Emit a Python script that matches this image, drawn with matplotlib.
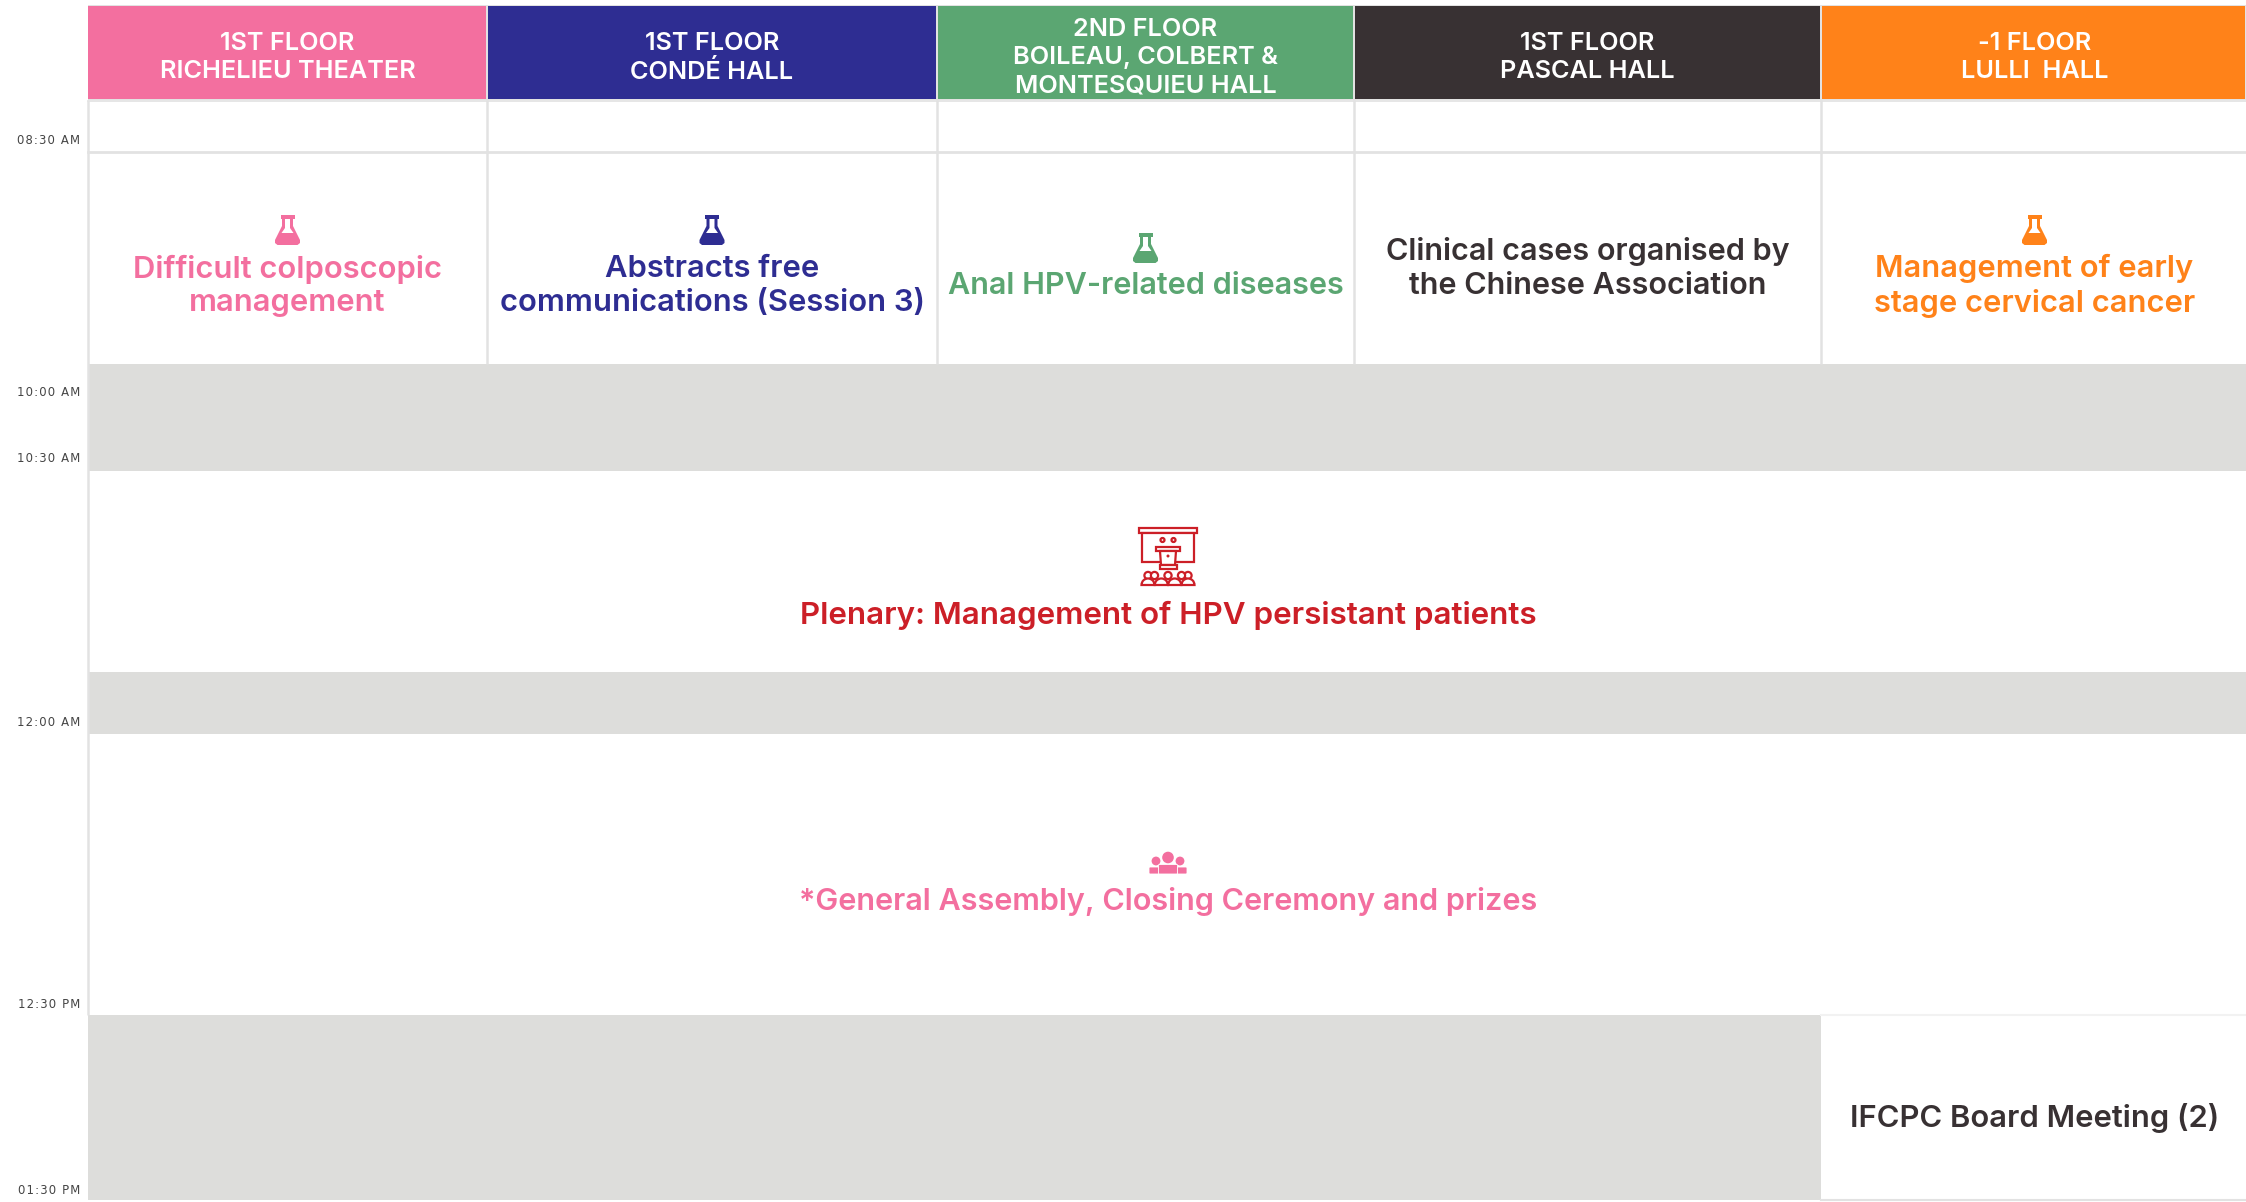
import matplotlib
matplotlib.use('Agg')
import matplotlib.pyplot as plt
from matplotlib.patches import Rectangle, Circle, Polygon, FancyBboxPatch, Wedge

plt.rcParams['font.family'] = ['Inter', 'DejaVu Sans']

# --- schedule layout (pixels of the 2246x1202 image) ---
col_edges = [88, 487, 937, 1354, 1821, 2246]
row_edges = [100, 152, 364, 471, 672, 734, 1015, 1200]

PINK = '#f36f9f'
NAVY = '#2e2d92'
GREEN = '#5ba672'
DARK = '#383133'
ORANGE = '#ff8219'
RED = '#cc1f27'
GRAY = '#dddddb'
LINE = '#e2e2e2'

headers = [['1ST FLOOR', 'RICHELIEU THEATER'],
           ['1ST FLOOR', 'CONDÉ HALL'],
           ['2ND FLOOR', 'BOILEAU, COLBERT &', 'MONTESQUIEU HALL'],
           ['1ST FLOOR', 'PASCAL HALL'],
           ['-1 FLOOR', 'LULLI  HALL']]
header_colors = [PINK, NAVY, GREEN, DARK, ORANGE]

sessions = ['Difficult colposcopic\nmanagement',
            'Abstracts free\ncommunications (Session 3)',
            'Anal HPV-related diseases',
            'Clinical cases organised by\nthe Chinese Association',
            'Management of early\nstage cervical cancer']
session_colors = [PINK, NAVY, GREEN, DARK, ORANGE]
session_flask = [True, True, True, False, True]
session_sizes = [22.3, 22.3, 22.0, 22.0, 22.3]

time_labels = ['08:30 AM', '10:00 AM', '10:30 AM', '12:00 AM', '12:30 PM', '01:30 PM']
time_y = [140, 392, 458, 722, 1004, 1190]

plenary = 'Plenary: Management of HPV persistant patients'
closing = '*General Assembly, Closing Ceremony and prizes'
board = 'IFCPC Board Meeting (2)'

fig = plt.figure(figsize=(22.46, 12.02), dpi=100)
ax = fig.add_axes([0, 0, 1, 1])
ax.set_xlim(0, 2246)
ax.set_ylim(1202, 0)
ax.axis('off')


def box(x0, y0, x1, y1, color, z=1):
    ax.add_patch(Rectangle((x0, y0), x1 - x0, y1 - y0, fc=color, ec='none', zorder=z))


def flask(cx, top, color):
    # small lab flask, 25 px wide and 30 px high
    ax.add_patch(Rectangle((cx - 7, top), 14, 3.5, fc=color, ec='none', zorder=3))
    ax.add_patch(Polygon([(cx - 5.5, top + 3), (cx - 2.5, top + 3), (cx - 2.5, top + 13), (cx - 6, top + 18),
                          (cx + 6, top + 18), (cx + 2.5, top + 13), (cx + 2.5, top + 3), (cx + 5.5, top + 3),
                          (cx + 5.5, top + 11), (cx + 12.5, top + 25), (cx + 12.5, top + 28), (cx + 10, top + 30),
                          (cx - 10, top + 30), (cx - 12.5, top + 28), (cx - 12.5, top + 25), (cx - 5.5, top + 11)],
                         fc=color, ec='none', zorder=3))


def people(cx, top, color):
    # three people group icon
    for dx, dy, r in [(-12, 9, 4.4), (12, 9, 4.4), (0, 5.5, 5.8)]:
        ax.add_patch(Circle((cx + dx, top + dy), r, fc=color, ec='none', zorder=3))
    for x0, x1, y0 in [(-19, -9, 15), (9, 19, 15), (-9.5, 9.5, 12.5)]:
        ax.add_patch(FancyBboxPatch((cx + x0 + 1, top + y0 + 1), x1 - x0 - 2, 22 - y0 - 2,
                                    boxstyle='round,pad=1', fc=color, ec='white', lw=0.6, zorder=4))


def podium(cx, top, color):
    # screen, lectern and audience
    lw = 1.6
    ax.add_patch(Rectangle((cx - 29, top + 1), 58, 4.5, fc='none', ec=color, lw=lw, zorder=3))
    ax.add_patch(Rectangle((cx - 26, top + 5.5), 52, 29, fc='white', ec=color, lw=lw, zorder=3))
    ax.add_patch(Rectangle((cx - 12, top + 20), 24, 4, fc='white', ec=color, lw=lw, zorder=4))
    ax.add_patch(Polygon([(cx - 8, top + 24), (cx + 8, top + 24), (cx + 7, top + 38), (cx - 7, top + 38)],
                         fc='white', ec=color, lw=lw, zorder=4))
    ax.add_patch(Rectangle((cx - 8.5, top + 38), 17, 4, fc='white', ec=color, lw=lw, zorder=4))
    ax.add_patch(Circle((cx - 5.5, top + 13), 2, fc='white', ec=color, lw=lw, zorder=4))
    ax.add_patch(Circle((cx + 5.5, top + 13), 2, fc='white', ec=color, lw=lw, zorder=4))
    ax.add_patch(Circle((cx, top + 29), 1.5, fc=color, ec='none', zorder=5))
    for dx in (-20, 0, 20):
        ax.add_patch(Circle((cx + dx, top + 48.5), 3.6, fc='white', ec=color, lw=lw, zorder=4))
    for dx in (-13.5, 13.5):
        ax.add_patch(Circle((cx + dx, top + 48.5), 3.6, fc='white', ec=color, lw=lw, zorder=4))
    for dx in (-20, -6.7, 6.7, 20):
        ax.add_patch(Wedge((cx + dx, top + 58), 6.5, 180, 360, fc='white', ec=color, lw=lw, zorder=5))


# header cells
for i in range(5):
    box(col_edges[i], 5, col_edges[i + 1], row_edges[0], LINE, 1)
    box(col_edges[i] + (1 if i else 0), 6, col_edges[i + 1] - 1, row_edges[0] - 1, header_colors[i], 2)
    n = len(headers[i])
    for j, line in enumerate(headers[i]):
        yy = 29 + 28.5 * j if n == 3 else 43.5 + 28.5 * j
        ax.text((col_edges[i] + col_edges[i + 1]) / 2 + (1.5 if i == 4 else 0), yy, line, color='white',
                fontsize=18.2, fontweight=600, ha='center', va='center', zorder=3)

# gray breaks
box(col_edges[0], row_edges[2], 2246, row_edges[3], GRAY)
box(col_edges[0], row_edges[4], 2246, row_edges[5], GRAY)
box(col_edges[0], row_edges[6], col_edges[4], row_edges[7], GRAY)

# grid lines
ax.plot([88, 88], [row_edges[0], row_edges[6]], color=LINE, lw=1.8, zorder=2, solid_capstyle='butt')
ax.plot([88, 2246], [row_edges[1], row_edges[1]], color=LINE, lw=2, zorder=2)
ax.plot([88, 2246], [row_edges[0] + 0.5, row_edges[0] + 0.5], color=LINE, lw=1.2, zorder=2)
for x in col_edges[1:5]:
    ax.plot([x, x], [row_edges[0], row_edges[2]], color=LINE, lw=1.8, zorder=2, solid_capstyle='butt')
ax.plot([col_edges[4], 2246], [row_edges[6], row_edges[6]], color='#f2f2f2', lw=1.5, zorder=2)
ax.plot([col_edges[4], 2246], [1200, 1200], color=LINE, lw=1.5, zorder=2)

# sessions
for i in range(5):
    cx = (col_edges[i] + col_edges[i + 1]) / 2 + (1 if i == 4 else 0)
    two = '\n' in sessions[i]
    yy = 286 if two else 286
    if i == 3:
        yy = 268.5
    ax.text(cx, yy, sessions[i], color=session_colors[i], fontsize=session_sizes[i], fontweight=600,
            ha='center', va='center', linespacing=1.26, zorder=3)
    if session_flask[i]:
        flask(cx, 215 if two else 233, session_colors[i])

cx_all = (col_edges[0] + 2246) / 2
podium(cx_all + 1, 527, RED)
ax.text(cx_all + 1, 615, plenary, color=RED, fontsize=22.6, fontweight=600, ha='center', va='center', zorder=3)
people(cx_all + 1, 852, PINK)
ax.text(cx_all + 1, 901, closing, color=PINK, fontsize=22.0, fontweight=600, ha='center', va='center', zorder=3)
ax.text((col_edges[4] + 2246) / 2 + 1.5, 1118, board, color=DARK, fontsize=22.3, fontweight=600,
        ha='center', va='center', zorder=3)

# time axis, hair spaces stand in for the letter spacing
for lab, y in zip(time_labels, time_y):
    ax.text(80, y, '\u200a'.join(lab), color='#444444', fontsize=8.4, family=['DejaVu Sans'],
            ha='right', va='center')

fig.savefig('out.png', dpi=100, facecolor='white')
